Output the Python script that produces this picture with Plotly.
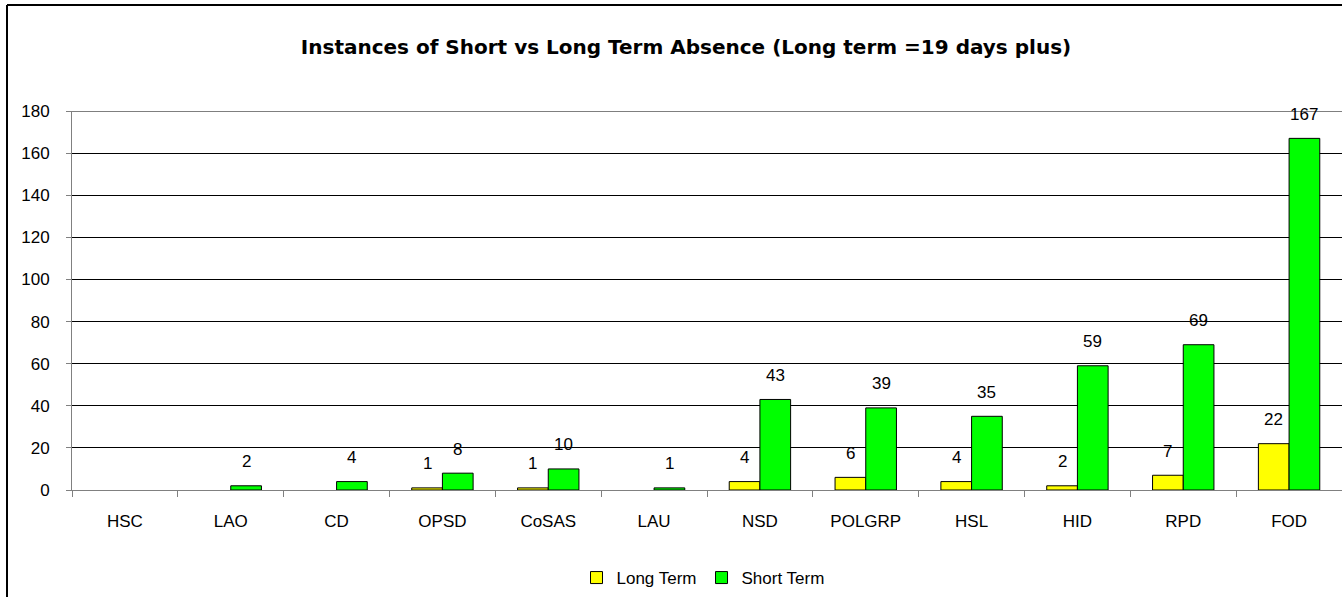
import plotly.graph_objects as go

categories = ["HSC", "LAO", "CD", "OPSD", "CoSAS", "LAU", "NSD", "POLGRP", "HSL", "HID", "RPD", "FOD"]
long_term = [None, None, None, 1, 1, None, 4, 6, 4, 2, 7, 22]
short_term = [None, 2, 4, 8, 10, 1, 43, 39, 35, 59, 69, 167]
y_ticks = [0, 20, 40, 60, 80, 100, 120, 140, 160, 180]

W, H = 1342, 597
ml, mr, mt, mb = 72, 0, 111, 107
pw, ph = W - ml - mr, H - mt - mb
BARGAP = 0.42

FONT = "Liberation Sans, Arial, sans-serif"

fig = go.Figure()
fig.add_trace(go.Bar(
    name="Long Term", x=categories, y=long_term,
    marker=dict(color="#FFFF00", line=dict(color="black", width=1)),
))
fig.add_trace(go.Bar(
    name="Short Term", x=categories, y=short_term,
    marker=dict(color="#00FF00", line=dict(color="black", width=1)),
))

# data labels above bars
slot = pw / len(categories)
half_bar = slot * (1 - BARGAP) / 4
for vals, shift in ((long_term, -half_bar), (short_term, half_bar)):
    for c, v in zip(categories, vals):
        if v is None:
            continue
        fig.add_annotation(x=c, y=v, text=str(v), showarrow=False,
                           xshift=shift, yshift=24, yanchor="middle",
                           font=dict(size=17, family=FONT, color="black"))

# top gridline at 180
fig.add_shape(type="line", xref="paper", yref="y", x0=0, x1=1,
              y0=max(y_ticks), y1=max(y_ticks), line=dict(color="black", width=1))

# chart border (left and top edges visible)
bx = (7 - ml) / pw
by = (H - mb - 5) / ph
fig.add_shape(type="line", xref="paper", yref="paper", x0=bx, x1=bx, y0=-1, y1=by,
              line=dict(color="black", width=2))
fig.add_shape(type="line", xref="paper", yref="paper", x0=bx, x1=1.2, y0=by, y1=by,
              line=dict(color="black", width=2))

fig.update_layout(
    width=W, height=H,
    margin=dict(l=ml, r=mr, t=mt, b=mb),
    paper_bgcolor="white", plot_bgcolor="white",
    barmode="group", bargap=BARGAP, bargroupgap=0,
    font=dict(family=FONT, size=17, color="black"),
    title=dict(text="<b>Instances of Short vs Long Term Absence (Long term =19 days plus)</b>",
               x=(686 - ml) / pw, xref="paper", xanchor="center", y=1 - 47 / H, yanchor="middle",
               font=dict(size=20, family="DejaVu Sans, sans-serif", color="black")),
    legend=dict(orientation="h", x=(703 - ml) / pw, xanchor="center",
                y=-(578 - (H - mb)) / ph, yanchor="middle",
                font=dict(size=17, family=FONT), itemwidth=30, tracegroupgap=0,
                traceorder="normal"),
    showlegend=True,
)
fig.update_xaxes(
    showline=True, linecolor="#808080", linewidth=1,
    ticks="outside", ticklen=6, tickcolor="#808080", tickson="boundaries",
    showgrid=False, tickfont=dict(size=17, family=FONT), ticklabelstandoff=16,
)
fig.update_yaxes(
    range=[0, 180], tickvals=y_ticks,
    showline=True, linecolor="#808080", linewidth=1,
    ticks="outside", ticklen=5, tickcolor="#808080",
    showgrid=True, gridcolor="black", gridwidth=1,
    zeroline=False, tickfont=dict(size=17, family=FONT), ticklabelstandoff=13,
)

fig.write_html("out.html", config={"displayModeBar": False},
               post_script="document.body.style.margin='0';document.body.style.overflow='hidden';")
